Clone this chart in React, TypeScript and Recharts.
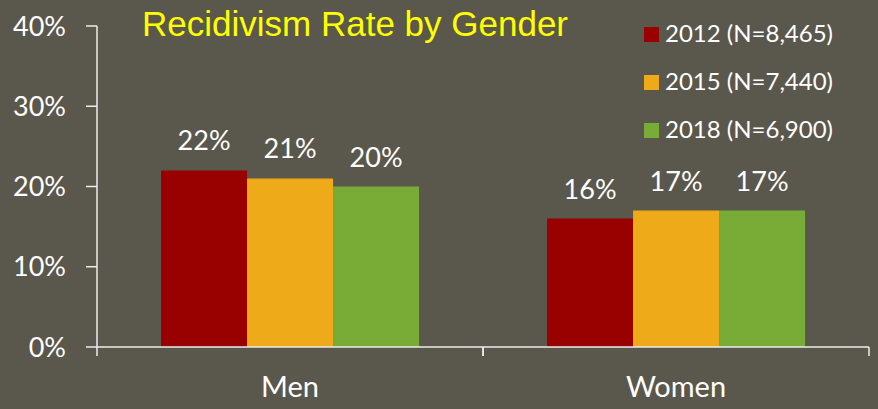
import React from 'react';
import { BarChart, Bar, XAxis, YAxis, Legend, LabelList } from 'recharts';

const categories = ['Men', 'Women'];
const rate2012 = [22, 16];
const rate2015 = [21, 17];
const rate2018 = [20, 17];
const seriesNames = ['2012 (N=8,465)', '2015 (N=7,440)', '2018 (N=6,900)'];
const seriesColors = ['#990000', '#EFAA1A', '#78AC36'];
const yTicks = [0, 10, 20, 30, 40];

const data = categories.map((c, i) => ({
  name: c,
  y2012: rate2012[i],
  y2015: rate2015[i],
  y2018: rate2018[i],
}));

const BG = '#5A574D';
const AXIS = '#EDEDED';
const FONT = 'Lato, "Open Sans", sans-serif';

const CategoryTick = (props: any) => {
  const { x, y, payload } = props;
  const half = payload?.offset ?? 0;
  return (
    <g>
      <line x1={x - half} y1={y} x2={x - half} y2={y + 9} stroke={AXIS} strokeWidth={1.5} />
      <line x1={x + half} y1={y} x2={x + half} y2={y + 9} stroke={AXIS} strokeWidth={1.5} />
      <text x={x} y={y + 50} textAnchor="middle" fill="#fff" fontSize={29} fontFamily={FONT}>
        {payload.value}
      </text>
    </g>
  );
};

const LegendBox = () => (
  <svg width={234} height={150} style={{ overflow: 'visible', display: 'block' }}>
    {seriesNames.map((n, i) => (
      <g key={n} transform={`translate(0, ${i * 48})`}>
        <rect x={0} y={7} width={15} height={15} fill={seriesColors[i]} />
        <text x={21} y={22} fill="#fff" fontSize={24} fontFamily={FONT}>{n}</text>
      </g>
    ))}
  </svg>
);

const pct = (v: any) => `${v}%`;

export default function App() {
  return (
    <div style={{ position: 'absolute', left: 0, top: 0, width: 878, height: 409, background: BG }}>
      <svg width={878} height={60} style={{ position: 'absolute', left: 0, top: 0, pointerEvents: 'none' }}>
        <text x={355} y={36} textAnchor="middle" fill="#FFFF00" fontSize={35}
          fontFamily='"Liberation Sans", Arial, sans-serif'>
          Recidivism Rate by Gender
        </text>
      </svg>
      <BarChart
        width={878}
        height={409}
        data={data}
        margin={{ top: 26, right: 9, left: 0, bottom: 0 }}
        barCategoryGap="16.6%"
        barGap={0}
      >
        <XAxis
          dataKey="name"
          height={62}
          axisLine={{ stroke: AXIS, strokeWidth: 1.5 }}
          tickLine={false}
          tickSize={0}
          tickMargin={0}
          tick={<CategoryTick />}
          interval={0}
        />
        <YAxis
          width={97}
          domain={[0, 40]}
          ticks={yTicks}
          tickFormatter={pct}
          axisLine={{ stroke: AXIS, strokeWidth: 1.5 }}
          tickLine={{ stroke: AXIS, strokeWidth: 1.5 }}
          tickSize={11}
          tickMargin={20}
          tick={{ fill: '#fff', fontSize: 27, fontFamily: FONT }}
        />
        <Legend
          layout="vertical"
          align="center"
          verticalAlign="middle"
          content={<LegendBox />}
          wrapperStyle={{ position: 'absolute', left: 644, top: 20, width: 234, height: 150, overflow: 'visible' }}
        />
        <Bar dataKey="y2012" name={seriesNames[0]} fill={seriesColors[0]} isAnimationActive={false}>
          <LabelList dataKey="y2012" position="top" offset={20} formatter={pct}
            fill="#fff" fontSize={27} fontFamily={FONT} />
        </Bar>
        <Bar dataKey="y2015" name={seriesNames[1]} fill={seriesColors[1]} isAnimationActive={false}>
          <LabelList dataKey="y2015" position="top" offset={20} formatter={pct}
            fill="#fff" fontSize={27} fontFamily={FONT} />
        </Bar>
        <Bar dataKey="y2018" name={seriesNames[2]} fill={seriesColors[2]} isAnimationActive={false}>
          <LabelList dataKey="y2018" position="top" offset={20} formatter={pct}
            fill="#fff" fontSize={27} fontFamily={FONT} />
        </Bar>
      </BarChart>
    </div>
  );
}
